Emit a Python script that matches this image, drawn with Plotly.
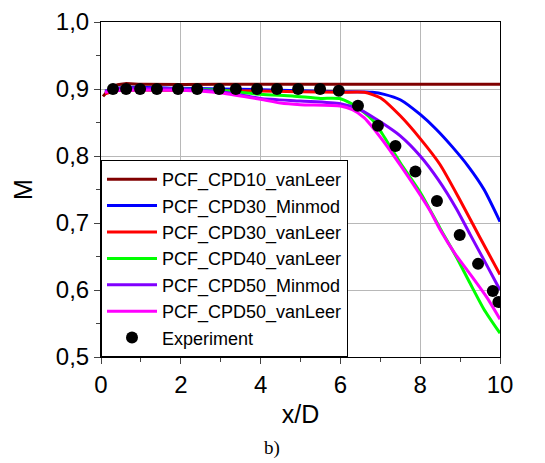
import plotly.graph_objects as go

# ---- data ----
names = ["PCF_CPD10_vanLeer", "PCF_CPD30_Minmod", "PCF_CPD30_vanLeer",
         "PCF_CPD40_vanLeer", "PCF_CPD50_Minmod", "PCF_CPD50_vanLeer"]
colors = ["#800000", "#0000FF", "#FF0000", "#00FF00", "#8000FF", "#FF00FF"]

cpd10_x = [0.05, 0.3, 0.6, 1.0, 3.0, 6.0, 8.0, 10.0]
cpd10_m = [0.889, 0.904, 0.908, 0.907, 0.907, 0.907, 0.907, 0.907]

cpd30m_x = [0.1, 0.5, 2.0, 4.0, 6.0, 6.8, 7.1, 7.5, 8.0, 8.4, 8.8, 9.2, 9.6, 10.0]
cpd30m_m = [0.895, 0.902, 0.901, 0.899, 0.896, 0.895, 0.892, 0.884, 0.862, 0.840, 0.814, 0.785, 0.750, 0.702]

cpd30v_x = [0.1, 0.5, 2.0, 4.0, 6.0, 6.6, 7.0, 7.5, 8.0, 8.5, 9.0, 9.5, 10.0]
cpd30v_m = [0.893, 0.898, 0.898, 0.897, 0.895, 0.895, 0.887, 0.860, 0.826, 0.787, 0.734, 0.678, 0.623]

cpd40v_x = [0.1, 0.5, 2.0, 3.0, 4.0, 4.8, 5.5, 6.0, 6.4, 6.8, 7.04, 7.5, 8.0, 8.5, 8.9, 9.25, 9.6, 10.0]
cpd40v_m = [0.897, 0.901, 0.900, 0.898, 0.892, 0.8895, 0.886, 0.8855, 0.874, 0.854, 0.834, 0.790, 0.746, 0.692, 0.650, 0.610, 0.571, 0.5355]

cpd50m_x = [0.1, 0.5, 2.0, 3.0, 4.0, 5.0, 6.0, 6.5, 7.0, 7.5, 8.0, 8.46, 8.9, 9.25, 9.65, 10.0]
cpd50m_m = [0.897, 0.901, 0.900, 0.896, 0.886, 0.882, 0.878, 0.869, 0.851, 0.830, 0.800, 0.764, 0.722, 0.683, 0.639, 0.600]

cpd50v_x = [0.1, 0.5, 2.0, 3.0, 4.0, 4.5, 5.0, 6.0, 6.3, 6.6, 7.04, 7.54, 8.0, 8.25, 8.5, 8.875, 9.21, 9.67, 10.0]
cpd50v_m = [0.895, 0.898, 0.898, 0.894, 0.8846, 0.879, 0.8766, 0.8746, 0.869, 0.857, 0.825, 0.783, 0.742, 0.718, 0.690, 0.654, 0.627, 0.589, 0.5565]

exp_x = [0.3, 0.63, 0.98, 1.40, 1.93, 2.41, 2.96, 3.38, 3.91, 4.41, 4.94, 5.49, 5.96,
         6.44, 6.94, 7.38, 7.88, 8.42, 8.99, 9.45, 9.82, 9.96]
exp_m = [0.9, 0.9, 0.9, 0.9, 0.9, 0.9, 0.9, 0.9, 0.9, 0.9, 0.9, 0.9, 0.8975,
         0.875, 0.845, 0.815, 0.777, 0.733, 0.682, 0.639, 0.5985, 0.582]

xs = [cpd10_x, cpd30m_x, cpd30v_x, cpd40v_x, cpd50m_x, cpd50v_x]
ms = [cpd10_m, cpd30m_m, cpd30v_m, cpd40v_m, cpd50m_m, cpd50v_m]

x_ticks = [0, 2, 4, 6, 8, 10]
y_ticks = [0.5, 0.6, 0.7, 0.8, 0.9, 1.0]

FONT = "Arial, Liberation Sans, sans-serif"

fig = go.Figure()
for n, c, x, m in zip(names, colors, xs, ms):
    fig.add_trace(go.Scatter(x=x, y=m, mode="lines", name=n,
                             line=dict(color=c, width=3, shape="spline", smoothing=0.6)))
fig.add_trace(go.Scatter(x=exp_x, y=exp_m, mode="markers", name="Experiment",
                         marker=dict(color="black", size=12)))

# page body has an 8px margin, so the figure is 8px smaller and margins are offset
fig.update_layout(
    width=537, height=455,
    margin=dict(l=93, r=45, t=14, b=106, autoexpand=False),
    paper_bgcolor="white", plot_bgcolor="white",
    separators=", ",
    font=dict(family=FONT, color="black", size=22),
    showlegend=True,
    legend=dict(x=0, y=0, xanchor="left", yanchor="bottom",
                bgcolor="white", bordercolor="black", borderwidth=1,
                font=dict(family=FONT, size=18, color="black"),
                itemwidth=50, tracegroupgap=0),
    annotations=[dict(text="b)", xref="paper", yref="paper",
                      x=(272 - 101) / 399.0, y=-(448 - 357) / 335.0,
                      xanchor="center", yanchor="middle",
                      showarrow=False,
                      font=dict(family="Liberation Serif, Times New Roman, serif", size=19))],
)

fig.update_xaxes(range=[0, 10], tickvals=x_ticks, ticks="outside", ticklen=6,
                 showline=True, linecolor="black", linewidth=1, mirror=True,
                 showgrid=True, gridcolor="#b8b8b8", gridwidth=1, zeroline=False,
                 automargin=False,
                 minor=dict(dtick=1, tick0=0, ticks="outside", ticklen=4, showgrid=False),
                 title=dict(text="x/D", font=dict(size=25), standoff=8),
                 tickfont=dict(size=24))
fig.update_yaxes(range=[0.5, 1.0], tickvals=y_ticks, tickformat=".1f", ticks="outside", ticklen=6,
                 showline=True, linecolor="black", linewidth=1, mirror=True,
                 showgrid=True, gridcolor="#b8b8b8", gridwidth=1, zeroline=False,
                 automargin=False,
                 minor=dict(dtick=0.05, tick0=0.5, ticks="outside", ticklen=4, showgrid=False),
                 title=dict(text="M", font=dict(size=25), standoff=16),
                 tickfont=dict(size=24))

fig.write_html("out.html")
